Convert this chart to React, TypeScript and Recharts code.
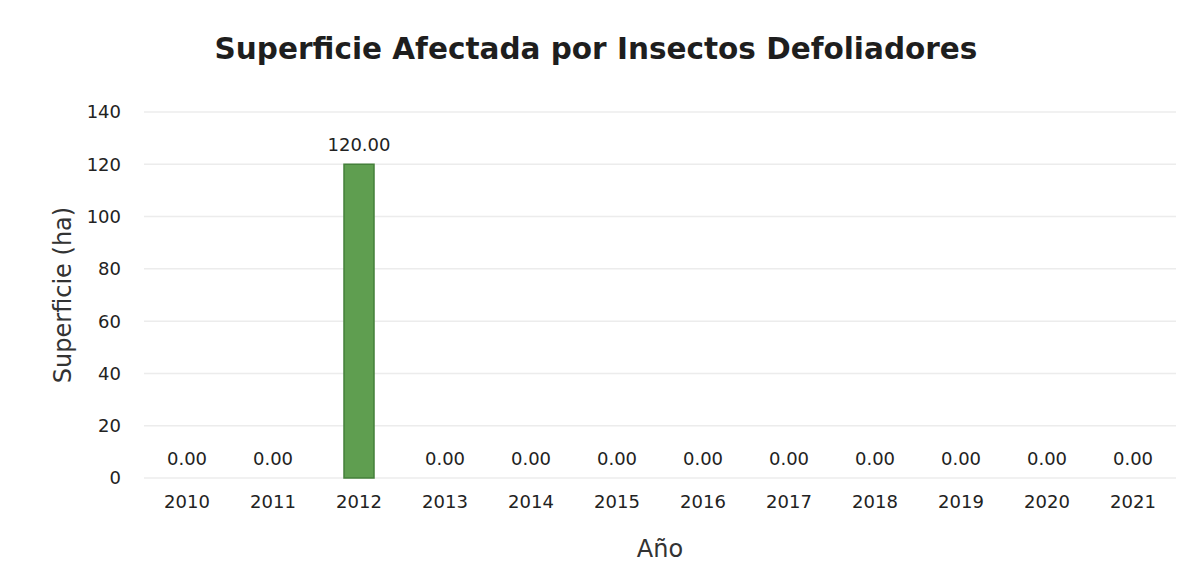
import { Bar, ComposedChart, CartesianGrid, LabelList, Line, XAxis, YAxis } from "recharts";

const years = ["2010", "2011", "2012", "2013", "2014", "2015", "2016", "2017", "2018", "2019", "2020", "2021"];
const superficie = [0, 0, 120, 0, 0, 0, 0, 0, 0, 0, 0, 0];
const yTicks = [0, 20, 40, 60, 80, 100, 120, 140];

const FONT = "'DejaVu Sans', sans-serif";

export default function App() {
  const data = years.map((year, i) => ({ year, value: superficie[i] }));

  return (
    <div style={{ position: "absolute", left: 0, top: 0, width: 1190, height: 574, background: "#fff", fontFamily: FONT }}>
      <div
        style={{
          position: "absolute",
          top: 32,
          left: 0,
          width: 1192,
          textAlign: "center",
          fontSize: 29.5,
          fontWeight: 700,
          color: "#1e1e1e",
        }}
      >
        Superficie Afectada por Insectos Defoliadores
      </div>
      <ComposedChart
        width={1190}
        height={574}
        data={data}
        margin={{ top: 112, right: 14, left: 0, bottom: 0 }}
        barCategoryGap={0}
      >
        <CartesianGrid vertical={false} stroke="#ececec" strokeWidth={1.5} />
        <XAxis
          dataKey="year"
          height={96}
          tickSize={0}
          tickMargin={17}
          axisLine={false}
          tick={{ fill: "#222", fontSize: 18, fontFamily: FONT }}
          label={{ value: "Año", position: "insideBottom", offset: 17, fill: "#333", fontSize: 24, fontFamily: FONT }}
        />
        <YAxis
          width={144}
          domain={[0, 140]}
          ticks={yTicks}
          tickSize={0}
          tickMargin={23}
          axisLine={false}
          tick={{ fill: "#222", fontSize: 18, fontFamily: FONT }}
          label={{
            value: "Superficie (ha)",
            angle: -90,
            position: "insideLeft",
            offset: 62,
            textAnchor: "middle",
            fill: "#333",
            fontSize: 24,
            fontFamily: FONT,
          }}
        />
        <Bar dataKey="value" fill="#5f9e50" stroke="#44803a" strokeWidth={1.5} barSize={30} isAnimationActive={false} />
        {/* value labels, also shown for the zero-height bars */}
        <Line dataKey="value" stroke="none" dot={false} activeDot={false} legendType="none" isAnimationActive={false}>
          <LabelList
            dataKey="value"
            position="top"
            offset={13}
            formatter={(v: number) => Number(v).toFixed(2)}
            style={{ fill: "#222", fontSize: 18, fontFamily: FONT }}
          />
        </Line>
      </ComposedChart>
    </div>
  );
}
